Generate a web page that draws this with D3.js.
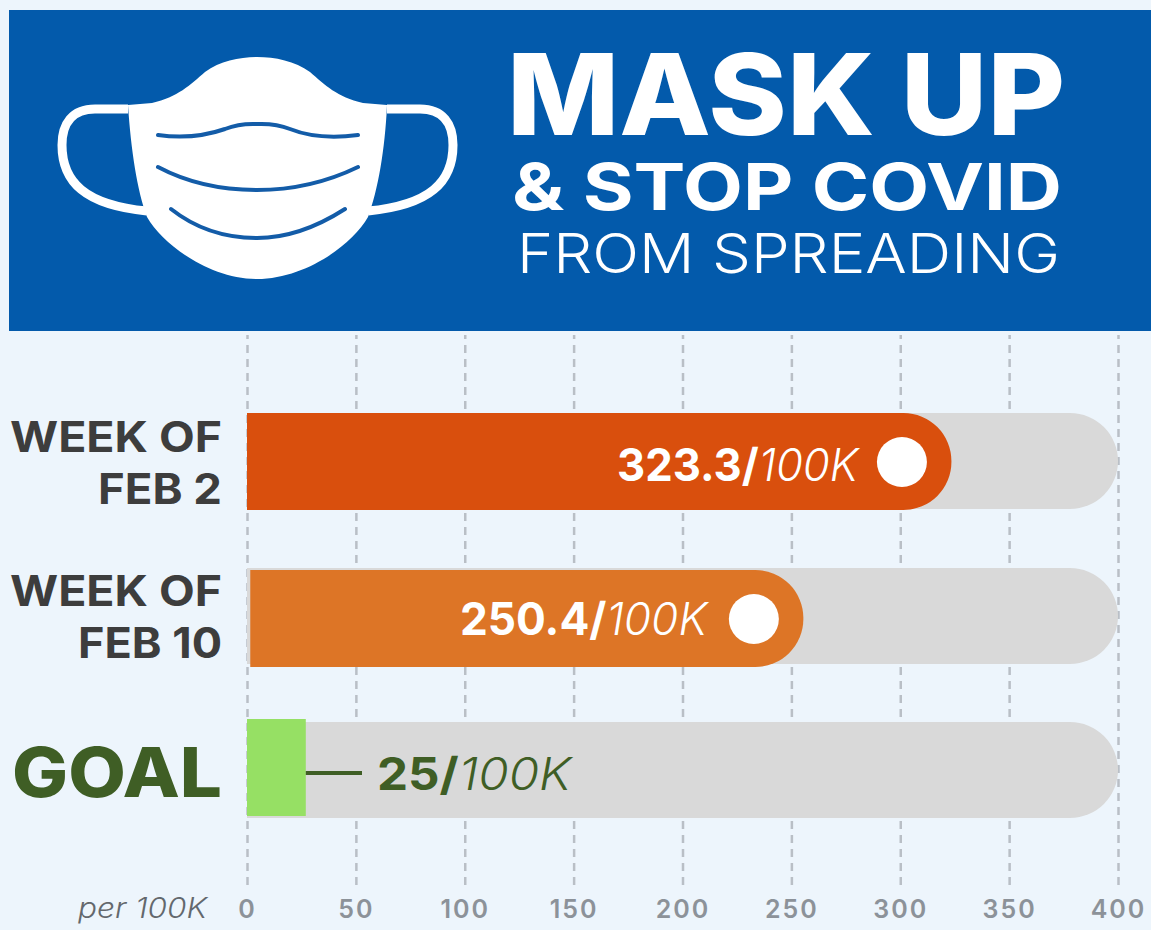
<!DOCTYPE html>
<html>
<head>
<meta charset="utf-8">
<script src="https://cdn.jsdelivr.net/npm/d3@7"></script>
<style>
  html, body { margin: 0; padding: 0; background: #edf5fc; }
  svg { display: block; font-family: Inter, "Open Sans", sans-serif; }
</style>
</head>
<body>
<svg id="chart" width="1151" height="930"></svg>
<script>
// values
const rowNames = ["feb2", "feb10", "goal"];
const barLengths = [323.5, 255.5, 27];   // drawn length of each bar, in per 100K units
const barLabels = ["323.3/", "250.4/", "25/"];
const trackMax = 400;
const tickValues = [0, 50, 100, 150, 200, 250, 300, 350, 400];

const x = d3.scaleLinear().domain([0, 400]).range([247, 1118]);
const svg = d3.select("#chart");

svg.append("rect").attr("width", 1151).attr("height", 930).attr("fill", "#edf5fc");

// banner
svg.append("rect").attr("x", 9).attr("y", 10).attr("width", 1142).attr("height", 321).attr("fill", "#035aab");

// mask icon
const mask = svg.append("g");
mask.selectAll(".ear")
  .data([
    "M128,109 L95,109 C72,109 62,124 62,145 C62,182 85,205 147,211",
    "M387,109 L420,109 C443,109 453,124 453,145 C453,182 430,205 368,211"
  ])
  .join("path")
  .attr("fill", "none").attr("stroke", "#fff").attr("stroke-width", 9)
  .attr("d", d => d);
mask.append("path")
  .attr("fill", "#fff")
  .attr("d", "M128,105 L152,103 C178,97 190,85 205,72 C220,61 240,57 257,57 C275,57 295,61 310,72 C325,85 337,97 363,103 L387,105 C385,150 378,190 368,217 C352,245 305,279 257,279 C210,279 163,245 147,217 C137,190 131,150 128,105 Z");
mask.selectAll(".pleat")
  .data([
    "M158,135 C180,138 205,136 225,129 C240,123 250,124 257,124 C265,124 275,123 290,129 C310,137 335,138 358,135",
    "M158,167 C190,184 225,190 257,190 C290,190 325,183 358,167",
    "M171,209 C195,228 225,238 257,238 C290,238 320,225 345,209"
  ])
  .join("path")
  .attr("fill", "none").attr("stroke", "#135ca8").attr("stroke-width", 4).attr("stroke-linecap", "round")
  .attr("d", d => d);

// headline
svg.append("text").text("MASK UP")
  .attr("x", 507).attr("y", 135).attr("textLength", 558).attr("lengthAdjust", "spacingAndGlyphs")
  .attr("fill", "#fff").attr("font-size", 113).attr("font-weight", 800);
svg.append("text").text("& STOP COVID")
  .attr("x", 512).attr("y", 210).attr("textLength", 550).attr("lengthAdjust", "spacingAndGlyphs")
  .attr("fill", "#fff").attr("font-size", 65).attr("font-weight", 700);
svg.append("text").text("FROM SPREADING")
  .attr("x", 517).attr("y", 273).attr("textLength", 543).attr("lengthAdjust", "spacingAndGlyphs")
  .attr("fill", "#fff").attr("font-size", 55).attr("font-weight", 300);

// axis with dashed grid
const axis = d3.axisBottom(x).tickValues(tickValues).tickSize(-550).tickPadding(15);
const axisG = svg.append("g").attr("transform", "translate(0,885)").call(axis);
axisG.select(".domain").remove();
axisG.selectAll("line")
  .attr("stroke", "#b9bfc6").attr("stroke-width", 2.5).attr("stroke-dasharray", "8 6");
axisG.selectAll("text")
  .attr("fill", "#8c9299").attr("font-size", 25).attr("font-weight", 600)
  .attr("letter-spacing", 2)
  .attr("font-family", "Inter, sans-serif");
svg.append("text").text("per 100K")
  .attr("x", 78).attr("y", 918).attr("textLength", 129).attr("lengthAdjust", "spacingAndGlyphs")
  .attr("fill", "#63686d").attr("font-size", 28).attr("font-style", "italic").attr("font-weight", 300);

// bar with a flat left end and rounded right end
function barPath(x0, x1, y0, y1, r) {
  const p = d3.path();
  p.moveTo(x0, y0);
  p.lineTo(x1 - r, y0);
  p.arcTo(x1, y0, x1, y0 + r, r);
  p.lineTo(x1, y1 - r);
  p.arcTo(x1, y1, x1 - r, y1, r);
  p.lineTo(x0, y1);
  p.closePath();
  return p.toString();
}

const trackTops = [413, 568, 722];
const barTops = [413, 570, 719];
const barStarts = [0, 1.5, 0];
const barColors = ["#d94f0d", "#dd7526", "#96e064"];
const barH = 97;

svg.selectAll(".track")
  .data(rowNames)
  .join("path")
  .attr("class", "track")
  .attr("fill", "#d9d9d9")
  .attr("d", (d, i) => barPath(x(0), x(trackMax), trackTops[i], trackTops[i] + 96, 48));

svg.selectAll(".bar")
  .data(rowNames)
  .join("path")
  .attr("class", "bar")
  .attr("fill", (d, i) => barColors[i])
  .attr("d", (d, i) => barPath(x(barStarts[i]), x(barLengths[i]), barTops[i], barTops[i] + barH, i === 2 ? 0 : 48));

// white dots on the two weekly bars
svg.selectAll(".dot")
  .data(rowNames.slice(0, 2))
  .join("circle")
  .attr("class", "dot")
  .attr("fill", "#fff")
  .attr("r", 25)
  .attr("cx", (d, i) => x(barLengths[i]) - 49.5)
  .attr("cy", (d, i) => barTops[i] + 49);

// value labels
const labelRight = [858, 707, 571];
const labelLeft = [617, 460, 377];
const labelBase = [481, 635, 790];
const labelColors = ["#fff", "#fff", "#3f5e25"];
const labels = svg.selectAll(".val")
  .data(rowNames)
  .join("text")
  .attr("class", "val")
  .attr("x", (d, i) => labelLeft[i])
  .attr("y", (d, i) => labelBase[i])
  .attr("fill", (d, i) => labelColors[i])
  .attr("font-size", 45)
  .attr("textLength", (d, i) => labelRight[i] - labelLeft[i])
  .attr("lengthAdjust", "spacingAndGlyphs");
labels.append("tspan").attr("font-weight", 700).text((d, i) => barLabels[i]);
labels.append("tspan").attr("font-weight", 300).attr("font-style", "italic").text("100K");

// goal connector
svg.append("line")
  .attr("x1", x(barLengths[2])).attr("x2", 362).attr("y1", 773).attr("y2", 773)
  .attr("stroke", "#3f5e25").attr("stroke-width", 4);

// row names
const nameLines = [
  { text: "WEEK OF", y: 452, x0: 10 },
  { text: "FEB 2", y: 504, x0: 98 },
  { text: "WEEK OF", y: 606, x0: 10 },
  { text: "FEB 10", y: 658, x0: 78 }
];
svg.selectAll(".name")
  .data(nameLines)
  .join("text")
  .attr("class", "name")
  .attr("x", d => d.x0)
  .attr("y", d => d.y)
  .attr("textLength", d => 222 - d.x0)
  .attr("lengthAdjust", "spacingAndGlyphs")
  .attr("fill", "#3d3d3d").attr("font-size", 42).attr("font-weight", 700)
  .text(d => d.text);
svg.append("text").text("GOAL")
  .attr("x", 12).attr("y", 797).attr("textLength", 210).attr("lengthAdjust", "spacingAndGlyphs")
  .attr("fill", "#3f5e25").attr("font-size", 69).attr("font-weight", 800);
</script>
</body>
</html>
